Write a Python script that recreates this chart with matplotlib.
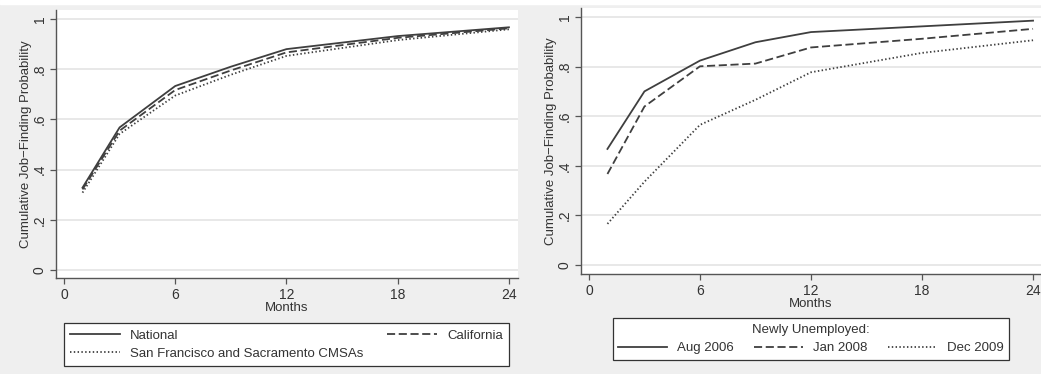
import matplotlib
matplotlib.use("Agg")
import matplotlib.pyplot as plt

# --- data ---
months = [1, 3, 6, 9, 12, 18, 24]

national = [0.328, 0.568, 0.733, 0.810, 0.880, 0.932, 0.967]
california = [0.321, 0.555, 0.717, 0.795, 0.867, 0.925, 0.963]
sf_sacramento = [0.308, 0.542, 0.695, 0.778, 0.853, 0.916, 0.959]

aug_2006 = [0.468, 0.700, 0.824, 0.898, 0.939, 0.962, 0.985]
jan_2008 = [0.367, 0.639, 0.801, 0.812, 0.877, 0.912, 0.952]
dec_2009 = [0.166, 0.336, 0.565, 0.666, 0.777, 0.855, 0.906]

x_ticks = [0, 6, 12, 18, 24]
y_ticks = [0, 0.2, 0.4, 0.6, 0.8, 1.0]
y_ticklabels = ["0", ".2", ".4", ".6", ".8", "1"]

plt.rcParams['font.family'] = ['Liberation Sans', 'DejaVu Sans']
plt.rcParams['font.size'] = 9.5

BG = '#efefef'
LINE = '#3f3f3f'
SPINE = '#555555'
GRID = '#e6e6e6'
TXT = '#333333'

styles = {
    'solid': dict(linestyle='-'),
    'dash': dict(linestyle=(0, (4.5, 2))),
    'dot': dict(linestyle=(0, (0.8, 1.3))),
}


def style_axes(ax, xlim, ylim):
    ax.set_facecolor('white')
    ax.set_xlim(*xlim)
    ax.set_ylim(*ylim)
    ax.set_xticks(x_ticks)
    ax.set_yticks(y_ticks)
    ax.set_yticklabels(y_ticklabels, rotation=90, va='center')
    ax.grid(axis='y', color=GRID, linewidth=1.3)
    ax.set_axisbelow(True)
    for s in ['top', 'right']:
        ax.spines[s].set_visible(False)
    for s in ['left', 'bottom']:
        ax.spines[s].set_color(SPINE)
        ax.spines[s].set_linewidth(1.0)
    ax.tick_params(colors=SPINE, labelcolor=TXT, labelsize=10, length=4.5, width=0.9, pad=2.5)
    ax.tick_params(axis='y', pad=2)
    ax.set_xlabel('Months', color=TXT, labelpad=0.5)
    ax.set_ylabel('Cumulative Job\u2212Finding Probability', color=TXT, labelpad=0.5)


fig = plt.figure(figsize=(10.41, 3.74), dpi=100, facecolor=BG)
# thin white strip along the top edge, as in the source image
fig.patches.append(plt.Rectangle((0, 0.99), 1, 0.01, transform=fig.transFigure,
                                 color='white', zorder=-1))

# --- left panel ---
ax1 = fig.add_axes([0.0538, 0.2567, 0.4438, 0.7166])
ax1.plot(months, national, color=LINE, lw=1.3, **styles['solid'], label='National')
ax1.plot(months, california, color=LINE, lw=1.3, **styles['dash'], label='California')
ax1.plot(months, sf_sacramento, color=LINE, lw=1.3, **styles['dot'], label='San Francisco and Sacramento CMSAs')
style_axes(ax1, (-0.43, 24.49), (-0.032, 1.036))

h, l = ax1.get_legend_handles_labels()
order = [0, 2, 1]
leg1 = fig.legend([h[i] for i in order], [l[i] for i in order], ncol=2, mode='expand',
                  loc='center', bbox_to_anchor=(0.0615, 0.0187, 0.4275, 0.1203),
                  bbox_transform=fig.transFigure, borderaxespad=0,
                  fancybox=False, framealpha=1, edgecolor='#333333',
                  handlelength=3.8, handletextpad=0.75, labelspacing=0.45,
                  borderpad=0.45)
leg1.get_frame().set_linewidth(0.9)
for t in leg1.get_texts():
    t.set_color(TXT)

# --- right panel ---
ax2 = fig.add_axes([0.5581, 0.2674, 0.4419, 0.7112])
ax2.plot(months, aug_2006, color=LINE, lw=1.3, **styles['solid'], label='Aug 2006')
ax2.plot(months, jan_2008, color=LINE, lw=1.3, **styles['dash'], label='Jan 2008')
ax2.plot(months, dec_2009, color=LINE, lw=1.3, **styles['dot'], label='Dec 2009')
style_axes(ax2, (-0.43, 24.43), (-0.036, 1.036))

leg2 = fig.legend(*ax2.get_legend_handles_labels(), ncol=3, mode='expand',
                  title='Newly Unemployed:', title_fontsize=9.5,
                  loc='center', bbox_to_anchor=(0.5889, 0.0348, 0.3804, 0.1176),
                  bbox_transform=fig.transFigure, borderaxespad=0,
                  fancybox=False, framealpha=1, edgecolor='#333333',
                  handlelength=3.7, handletextpad=0.75, columnspacing=1.5,
                  borderpad=0.4)
leg2.get_frame().set_linewidth(0.9)
leg2.get_title().set_color(TXT)
for t in leg2.get_texts():
    t.set_color(TXT)

fig.savefig('out.png', dpi=100, facecolor=BG)
